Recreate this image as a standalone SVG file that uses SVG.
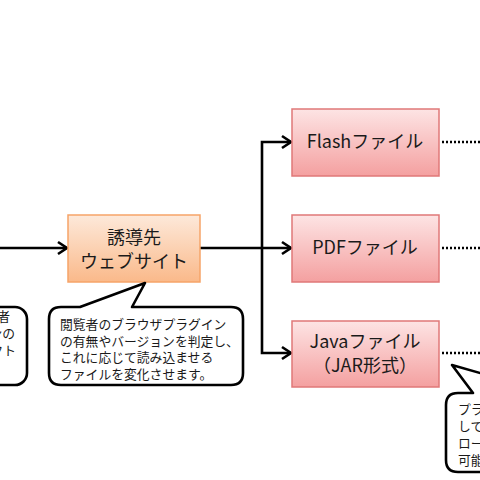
<svg xmlns="http://www.w3.org/2000/svg" width="480" height="480" viewBox="0 0 480 480">
<style>
.jp{font-family:"Noto Sans CJK JP","Noto Sans",sans-serif;fill:#1a1a1a}
.node{font-size:18px;text-anchor:middle}
.note{font-size:12.8px}
.conn{fill:none;stroke:#000;stroke-width:2.6}
.dot{fill:none;stroke:#000;stroke-width:2.4;stroke-dasharray:2 2}
.bubble{fill:#fff;stroke:#000;stroke-width:2.6;stroke-linejoin:round}
</style>
<defs>
<linearGradient id="gOrange" x1="0" y1="0" x2="0" y2="1">
<stop offset="0" stop-color="#fde9da"/>
<stop offset="1" stop-color="#fab98a"/>
</linearGradient>
<linearGradient id="gPink" x1="0" y1="0" x2="0" y2="1">
<stop offset="0" stop-color="#fde4e4"/>
<stop offset="1" stop-color="#f4a0a0"/>
</linearGradient>
<marker id="arr" markerUnits="userSpaceOnUse" markerWidth="14" markerHeight="16" viewBox="0 0 14 16" refX="12" refY="8" orient="auto">
<path d="M3,2 L12,8 L3,14" fill="none" stroke="#000" stroke-width="2.6"/>
</marker>
</defs>
<rect width="480" height="480" fill="#fff"/>

<g id="connectors">
<path class="conn" d="M0,248 L67,248" marker-end="url(#arr)"/>
<path class="conn" d="M200,248 L291,248" marker-end="url(#arr)"/>
<path class="conn" d="M262,248 L262,142 L291,142" marker-end="url(#arr)"/>
<path class="conn" d="M262,248 L262,353 L291,353" marker-end="url(#arr)"/>
<path class="dot" d="M442,142 L480,142"/>
<path class="dot" d="M442,248 L480,248"/>
<path class="dot" d="M442,353 L480,353"/>
</g>

<g id="callout-left">
<rect class="bubble" x="-30" y="307" width="57" height="78" rx="12"/>
<text class="jp note" x="10" y="321" text-anchor="end">者</text>
<text class="jp note" x="15" y="338" text-anchor="end">ンの</text>
<text class="jp note" x="16" y="355" text-anchor="end">レクト</text>
</g>

<g id="node-site">
<rect x="68" y="215" width="132" height="67" fill="url(#gOrange)" stroke="#f6a468" stroke-width="1.5"/>
<text class="jp node" x="134" y="244">誘導先</text>
<text class="jp node" x="134" y="268">ウェブサイト</text>
</g>

<g id="callout-site">
<path class="bubble" d="M61,307 L80,307 L145,283 L132,307 L231,307 Q243,307 243,319 L243,373 Q243,385 231,385 L61,385 Q49,385 49,373 L49,319 Q49,307 61,307 Z"/>
<text class="jp note" x="60" y="329">閲覧者のブラウザプラグイン</text>
<text class="jp note" x="60" y="346">の有無やバージョンを判定し、</text>
<text class="jp note" x="60" y="362">これに応じて読み込ませる</text>
<text class="jp note" x="60" y="379">ファイルを変化させます。</text>
</g>

<g id="node-flash">
<rect x="292" y="109" width="147" height="67" fill="url(#gPink)" stroke="#e07878" stroke-width="1.5"/>
<text class="jp node" x="365" y="148">Flashファイル</text>
</g>

<g id="node-pdf">
<rect x="292" y="215" width="147" height="67" fill="url(#gPink)" stroke="#e07878" stroke-width="1.5"/>
<text class="jp node" x="365" y="254">PDFファイル</text>
</g>

<g id="node-java">
<rect x="292" y="321" width="147" height="66" fill="url(#gPink)" stroke="#e07878" stroke-width="1.5"/>
<text class="jp node" x="365" y="348">Javaファイル</text>
<text class="jp node" x="365" y="372">（JAR形式）</text>
</g>

<g id="callout-java">
<path class="bubble" d="M560,393 L550,393 L452,365 L473,393 L458,393 Q446,393 446,405 L446,460 Q446,472 458,472 L560,472"/>
<text class="jp note" x="458" y="414">プラ</text>
<text class="jp note" x="458" y="431">して</text>
<text class="jp note" x="458" y="448">ロー</text>
<text class="jp note" x="458" y="465">可能</text>
</g>
</svg>
